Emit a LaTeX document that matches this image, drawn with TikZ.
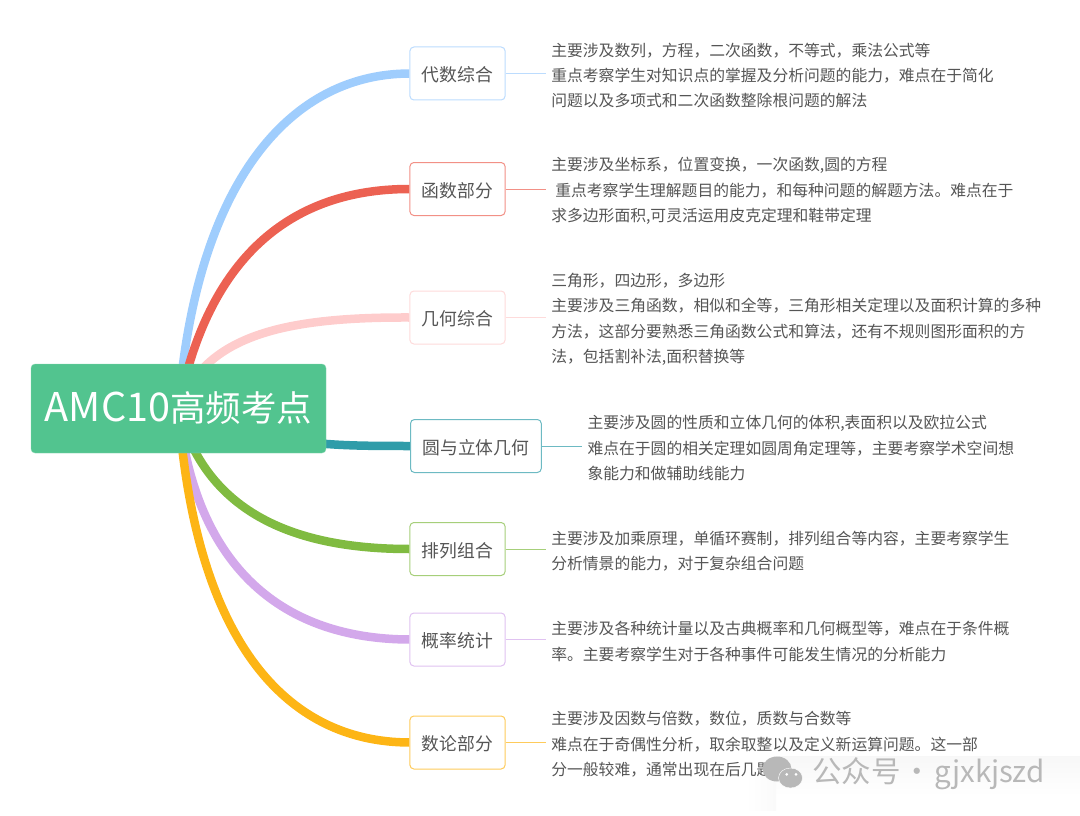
\documentclass[tikz,border=0pt]{standalone}
\usepackage{fontspec}
\setmainfont{Noto Sans CJK SC}
\usetikzlibrary{positioning,backgrounds}
\definecolor{rootgreen}{HTML}{52C48F}
\definecolor{algblue}{HTML}{9FCDFD}
\definecolor{funcred}{HTML}{EC6152}
\definecolor{geopink}{HTML}{FECCCC}
\definecolor{circteal}{HTML}{2F9CA9}
\definecolor{combgreen}{HTML}{80BB41}
\definecolor{probpurple}{HTML}{D3A8EB}
\definecolor{numorange}{HTML}{FDB515}
\definecolor{inkgray}{HTML}{555555}
\definecolor{markgray}{HTML}{B8B8B8}
\tikzset{
  topic/.style={draw=#1!70!white, fill=white, line width=1pt, rounded corners=4pt, minimum width=95pt,
    minimum height=53pt, inner xsep=12pt, text=inkgray, text height=20pt, text depth=3.4pt,
    font=\fontsize{17.8}{20}\selectfont},
  note/.style={align=left, inner xsep=5.5pt, inner ysep=0pt, yshift=-2pt, text=inkgray,
    font=\fontsize{15.8}{25.4}\selectfont},
  branch/.style={draw=#1, line width=8.5pt},
  twig/.style={draw=#1!70!white, line width=1pt}
}
\begin{document}
\begin{tikzpicture}[x=1pt, y=-1pt, node distance=40pt]
  \useasboundingbox (0,0) rectangle (1080,816);
  \node [fill=rootgreen, draw=rootgreen!70!white, rounded corners=4pt, minimum width=295pt, minimum height=89pt,
    text=white, inner sep=0pt, font=\fontsize{35.5}{42}\selectfont] (root) at (178.5,408.5)
    {\raisebox{-3.5pt}{{\fontsize{39.6}{42}\selectfont AMC10}高频考点}};
  % topics
  \node [topic=algblue] (alg) at (457.5,73.5) {代数综合};
  \node [topic=funcred] (func) at (457.5,189) {函数部分};
  \node [topic=geopink] (geo) at (457.5,317.5) {几何综合};
  \node [topic=circteal, anchor=west] (circ) at (410,446) {圆与立体几何};
  \node [topic=combgreen] (comb) at (457.5,549) {排列组合};
  \node [topic=probpurple] (prob) at (457.5,639.5) {概率统计};
  \node [topic=numorange] (num) at (457.5,742.5) {数论部分};
  % notes
  \node [note, right=of alg] (algnote) {主要涉及数列，方程，二次函数，不等式，乘法公式等\\
    重点考察学生对知识点的掌握及分析问题的能力，难点在于简化\\
    问题以及多项式和二次函数整除根问题的解法};
  \node [note, right=of func] (funcnote) {主要涉及坐标系，位置变换，一次函数,圆的方程\\
    \hspace*{4pt}重点考察学生理解题目的能力，和每种问题的解题方法。难点在于\\
    求多边形面积,可灵活运用皮克定理和鞋带定理};
  \node [note, right=of geo] (geonote) {三角形，四边形，多边形\\
    主要涉及三角函数，相似和全等，三角形相关定理以及面积计算的多种\\
    方法，这部分要熟悉三角函数公式和算法，还有不规则图形面积的方\\
    法，包括割补法,面积替换等};
  \node [note, right=of circ] (circnote) {主要涉及圆的性质和立体几何的体积,表面积以及欧拉公式\\
    难点在于圆的相关定理如圆周角定理等，主要考察学术空间想\\
    象能力和做辅助线能力};
  \node [note, right=of comb] (combnote) {主要涉及加乘原理，单循环赛制，排列组合等内容，主要考察学生\\
    分析情景的能力，对于复杂组合问题};
  \node [note, right=of prob] (probnote) {主要涉及各种统计量以及古典概率和几何概型等，难点在于条件概\\
    率。主要考察学生对于各种事件可能发生情况的分析能力};
  \node [note, right=of num] (numnote) {主要涉及因数与倍数，数位，质数与合数等\\
    难点在于奇偶性分析，取余取整以及定义新运算问题。这一部\\
    分一般较难，通常出现在后几题};
  \draw [twig=algblue] (alg) -- (alg -| algnote.west);
  \draw [twig=funcred] (func) -- (func -| funcnote.west);
  \draw [twig=geopink] (geo) -- (geo -| geonote.west);
  \draw [twig=circteal] (circ) -- (circ -| circnote.west);
  \draw [twig=combgreen] (comb) -- (comb -| combnote.west);
  \draw [twig=probpurple] (prob) -- (prob -| probnote.west);
  \draw [twig=numorange] (num) -- (num -| numnote.west);
  % branches
  \begin{scope}[on background layer]
    \shade [top color=black!3, bottom color=white] (776,756) rectangle (1080,796);
    \shade [left color=white, right color=black!2] (745,772) rectangle (776,810);
    \draw [branch=algblue] (root.center) .. controls (195,190) and (285,74) .. (alg.west);
    \draw [branch=funcred] (root.center) .. controls (205,270) and (280,189) .. (func.west);
    \draw [branch=geopink] (root.center) .. controls (205,335) and (285,317) .. (geo.west);
    \draw [branch=circteal] (root.center) .. controls (280,445) and (320,446) .. (circ.west);
    \draw [branch=combgreen] (root.center) .. controls (205,510) and (290,549) .. (comb.west);
    \draw [branch=probpurple] (root.center) .. controls (195,570) and (285,639) .. (prob.west);
    \draw [branch=numorange] (root.center) .. controls (195,640) and (285,742) .. (num.west);
  \end{scope}
  % mark
  \node [text=markgray, anchor=west, inner sep=0pt, font=\fontsize{29.5}{32}\selectfont] (mark) at (812,774)
    {公众号\hspace{-4.5pt} ·\hspace{-4.5pt} gjxkjszd};
  \fill [markgray] (777,769) ellipse [x radius=14.5pt, y radius=12.5pt];
  \fill [markgray, draw=white] (790.5,778) ellipse [x radius=12pt, y radius=10pt];
  \fill [white] (786.7,774.3) circle [radius=1.5pt] (796,774.3) circle [radius=1.5pt];
\end{tikzpicture}
\end{document}
